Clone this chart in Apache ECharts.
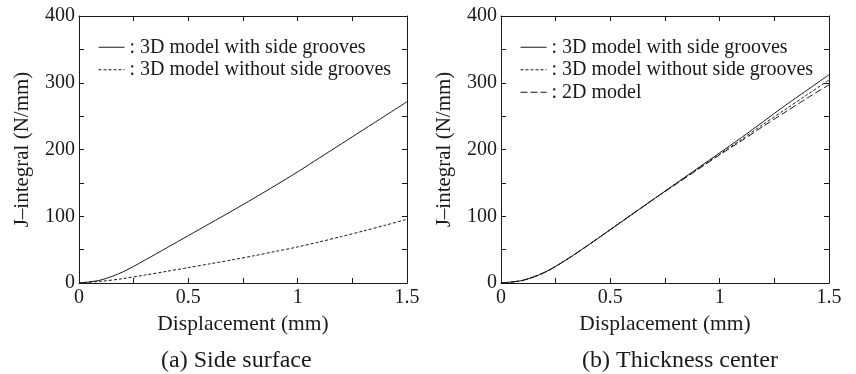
<!DOCTYPE html>
<html>
<head>
<meta charset="utf-8">
<script src="https://cdn.jsdelivr.net/npm/echarts@6/dist/echarts.min.js"></script>
<style>html,body{margin:0;padding:0;background:#fff}#c{width:856px;height:374px}</style>
</head>
<body>
<div id="c"></div>
<script>
// ---- data ----
const disp = [0, 0.1, 0.2, 0.3, 0.4, 0.5, 0.6, 0.7, 0.8, 0.9, 1.0, 1.1, 1.2, 1.3, 1.4, 1.5];
const sideWithGrooves    = [0, 4.5, 16.5, 34, 52.5, 71, 89.5, 108, 127, 146.5, 166.5, 187.5, 208.5, 229.5, 250.5, 271.5];
const sideWithoutGrooves = [0, 2.5, 6.5, 11.8, 17.4, 23, 28.8, 34.6, 40.8, 47.4, 54, 61.6, 69.6, 77.8, 86.5, 95.5];

const centerWithGrooves    = [0, 4, 16, 35, 57, 80, 103, 126, 149, 172, 195, 218, 242, 266, 289, 312];
const centerWithoutGrooves = [0, 4, 16, 35, 57, 80, 103, 126, 149, 171, 193, 215, 238, 260, 282, 304];
const center2D             = [0, 4, 16, 35, 57, 80, 103, 126, 148, 170, 192, 213, 235, 256, 277, 297];

const legendNamesA = ['3D model with side grooves', '3D model without side grooves'];
const legendNamesB = ['3D model with side grooves ', '3D model without side grooves ', '2D model'];
const xTicks = [0, 0.5, 1, 1.5];
const yTicks = [0, 100, 200, 300, 400];
const captions = ['(a) Side surface', '(b) Thickness center'];
const xName = 'Displacement (mm)';
const yName = 'J\u2013integral (N/mm)';

// ---- chart ----
const FONT = '"Liberation Serif", "DejaVu Serif", serif';
const INK = '#1a1a1a';
const pairs = (xs, ys) => xs.map((x, i) => [x, ys[i]]);

function xAx(grid, pos) {
  const main = pos === 'bottom';
  return {
    type: 'value', gridIndex: grid, position: pos,
    min: xTicks[0], max: xTicks[xTicks.length - 1], interval: 0.5,
    name: main ? xName : '', nameLocation: 'middle', nameGap: 29,
    nameTextStyle: { fontFamily: FONT, fontSize: 21.5, color: INK },
    axisLine: { show: true, onZero: false, lineStyle: { color: INK, width: 1 } },
    axisTick: { show: true, inside: true, length: 5, lineStyle: { color: INK } },
    minorTick: { show: true, splitNumber: 2, length: 5, lineStyle: { color: INK } },
    splitLine: { show: false },
    axisLabel: { show: main, fontFamily: FONT, fontSize: 20, color: INK, margin: 5 }
  };
}
function yAx(grid, pos) {
  const main = pos === 'left';
  return {
    type: 'value', gridIndex: grid, position: pos,
    min: yTicks[0], max: yTicks[yTicks.length - 1], interval: 100,
    name: main ? yName : '', nameLocation: 'middle', nameGap: 46,
    nameTextStyle: { fontFamily: FONT, fontSize: 21, color: INK },
    axisLine: { show: true, onZero: false, lineStyle: { color: INK, width: 1 } },
    axisTick: { show: true, inside: true, length: 5, lineStyle: { color: INK } },
    minorTick: { show: true, splitNumber: 2, length: 5, lineStyle: { color: INK } },
    splitLine: { show: false },
    axisLabel: { show: main, fontFamily: FONT, fontSize: 20, color: INK, margin: 4 }
  };
}
function line(name, xi, yi, data, dash) {
  return {
    type: 'line', name, xAxisIndex: xi, yAxisIndex: yi, data,
    symbol: 'none', showSymbol: false, smooth: 0.3,
    lineStyle: { color: INK, width: 1, type: dash || 'solid' },
    itemStyle: { color: INK }
  };
}
const legendCommon = {
  orient: 'vertical', itemWidth: 26, itemHeight: 14, itemGap: 0,
  formatter: n => ': ' + n.trim(),
  itemStyle: { opacity: 0 },
  lineStyle: { width: 1 },
  textStyle: { fontFamily: FONT, fontSize: 20, color: INK, lineHeight: 22.5 },
  selectedMode: false
};

const chart = echarts.init(document.getElementById('c'), null, { renderer: 'canvas' });
chart.setOption({
  backgroundColor: '#fff',
  animation: false,
  grid: [
    { left: 79, right: 449, top: 16, bottom: 91 },
    { left: 501, right: 27, top: 16, bottom: 91 }
  ],
  xAxis: [xAx(0, 'bottom'), xAx(0, 'top'), xAx(1, 'bottom'), xAx(1, 'top')],
  yAxis: [yAx(0, 'left'), yAx(0, 'right'), yAx(1, 'left'), yAx(1, 'right')],
  legend: [
    Object.assign({}, legendCommon, { left: 93, top: 31, data: legendNamesA }),
    Object.assign({}, legendCommon, { left: 515, top: 31, data: legendNamesB })
  ],
  graphic: captions.map((t, i) => ({
    type: 'text', left: i === 0 ? 161 : 582, top: 349,
    style: { text: t, font: '24px ' + FONT, fill: INK }
  })),
  series: [
    line(legendNamesA[0], 0, 0, pairs(disp, sideWithGrooves)),
    line(legendNamesA[1], 0, 0, pairs(disp, sideWithoutGrooves), [3, 2]),
    line(legendNamesB[0], 2, 2, pairs(disp, centerWithGrooves)),
    line(legendNamesB[1], 2, 2, pairs(disp, centerWithoutGrooves), [3, 2]),
    line(legendNamesB[2], 2, 2, pairs(disp, center2D), [7, 3])
  ]
});
</script>
</body>
</html>
